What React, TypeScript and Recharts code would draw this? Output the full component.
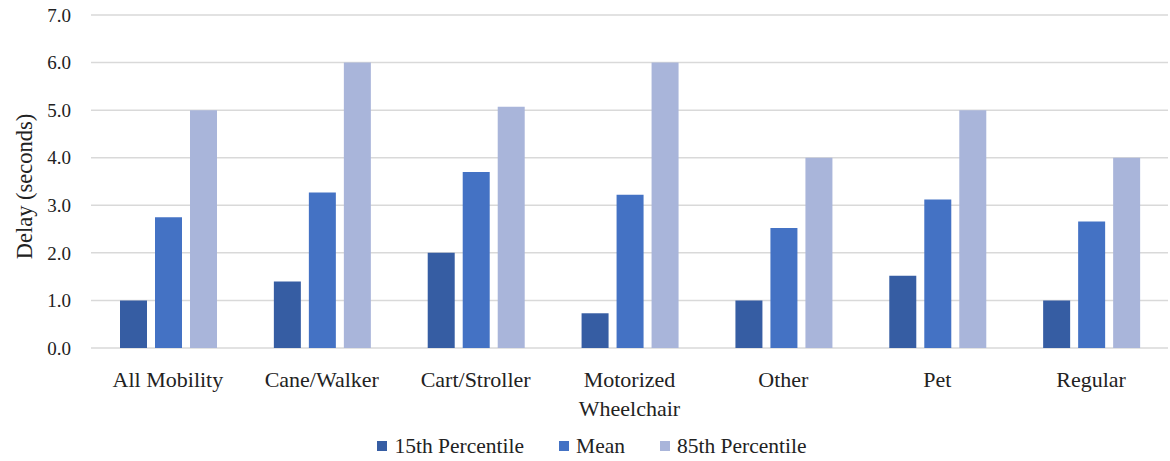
import { BarChart, Bar, XAxis, YAxis, CartesianGrid, Legend, Label } from 'recharts'

const categories = ['All Mobility', 'Cane/Walker', 'Cart/Stroller', 'Motorized Wheelchair', 'Other', 'Pet', 'Regular']
const p15 = [1.0, 1.4, 2.0, 0.73, 1.0, 1.52, 1.0]
const mean = [2.75, 3.27, 3.7, 3.22, 2.52, 3.12, 2.66]
const p85 = [5.0, 6.0, 5.07, 6.0, 4.0, 5.0, 4.0]
const yTicks = [0, 1, 2, 3, 4, 5, 6, 7]

const seriesKeys = ['p15', 'mean', 'p85']
const seriesNames = ['15th Percentile', 'Mean', '85th Percentile']

const data = categories.map((c, i) => ({ name: c, p15: p15[i], mean: mean[i], p85: p85[i] }))

const FONT = '"Liberation Serif", "Times New Roman", serif'
const INK = '#222'

// eslint-disable-next-line @typescript-eslint/no-explicit-any
const XTick = ({ x, y, payload }: any) => {
  const label: string = payload.value
  const lines = label.length > 14 ? label.split(' ') : [label]
  return (
    <text x={x} y={y} textAnchor="middle" fill={INK} fontSize={22} fontFamily={FONT}>
      {lines.map((l, i) => (
        <tspan key={i} x={x} dy={i === 0 ? 31 : 29}>{l}</tspan>
      ))}
    </text>
  )
}

// eslint-disable-next-line @typescript-eslint/no-explicit-any
const LegendBox = ({ payload }: any) => {
  // eslint-disable-next-line @typescript-eslint/no-explicit-any
  const items = [...(payload || [])].sort((a: any, b: any) => seriesKeys.indexOf(a.dataKey) - seriesKeys.indexOf(b.dataKey))
  return (
    <div style={{ height: 24, display: 'flex', justifyContent: 'center', alignItems: 'center', fontFamily: FONT, fontSize: 21.5, color: INK, paddingLeft: 16 }}>
      {/* eslint-disable-next-line @typescript-eslint/no-explicit-any */}
      {items.map((it: any, i: number) => (
        <span key={it.dataKey} style={{ display: 'flex', alignItems: 'center', marginLeft: i ? 35 : 0 }}>
          <span style={{ width: 10, height: 10, background: it.color, marginRight: 7, display: 'inline-block' }} />
          {seriesNames[seriesKeys.indexOf(it.dataKey)]}
        </span>
      ))}
    </div>
  )
}

export default function App() {
  return (
    <div style={{ position: 'absolute', left: 0, top: 0, background: '#fff' }}>
      <BarChart
        width={1170}
        height={461}
        data={data}
        margin={{ top: 15, right: 2, left: 0, bottom: 3 }}
        barGap={8}
        barCategoryGap={29}
      >
        <CartesianGrid stroke="#d9d9d9" strokeWidth={1.5} vertical={false} />
        <XAxis dataKey="name" axisLine={false} tickLine={false} tick={<XTick />} height={86} interval={0} />
        <YAxis
          domain={[0, 7]}
          ticks={yTicks}
          width={91}
          axisLine={false}
          tickLine={false}
          tickFormatter={(v: number) => v.toFixed(1)}
          tick={{ fontSize: 19, fill: INK, fontFamily: FONT }}
          tickMargin={14}
        >
          <Label
            // eslint-disable-next-line @typescript-eslint/no-explicit-any
            content={(props: any) => {
              const vb = props.viewBox
              const cx = 24
              const cy = vb.y + vb.height / 2 + 5
              return (
                <text x={cx} y={cy} transform={`rotate(-90 ${cx} ${cy})`} textAnchor="middle" dominantBaseline="central" fontSize={22.5} fill={INK} fontFamily={FONT}>
                  Delay (seconds)
                </text>
              )
            }}
          />
        </YAxis>
        <Legend verticalAlign="bottom" content={<LegendBox />} />
        <Bar dataKey="p15" fill="#365DA3" isAnimationActive={false} />
        <Bar dataKey="mean" fill="#4472C4" isAnimationActive={false} />
        <Bar dataKey="p85" fill="#A9B5DA" isAnimationActive={false} />
      </BarChart>
    </div>
  )
}
